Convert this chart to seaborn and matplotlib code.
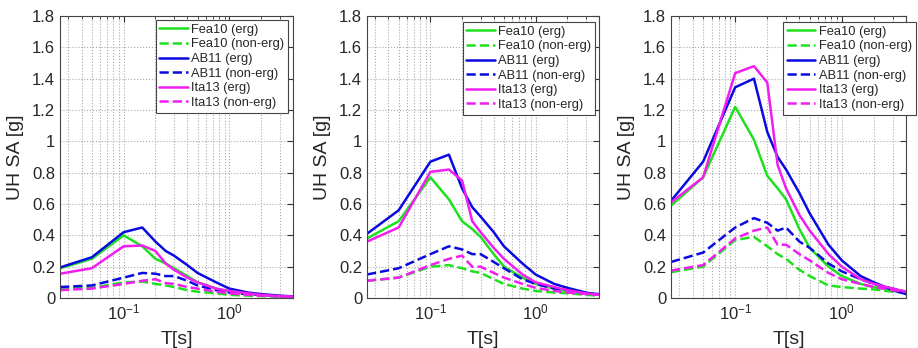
import numpy as np
import pandas as pd
import matplotlib
matplotlib.use("Agg")
import matplotlib.pyplot as plt
import matplotlib.ticker as mticker
import seaborn as sns

periods = [0.025, 0.05, 0.1, 0.15, 0.2, 0.25, 0.3, 0.4, 0.5, 0.75, 1.0, 1.5, 2.0, 3.0, 4.0]
labels = ["Fea10 (erg)", "Fea10 (non-erg)", "AB11 (erg)", "AB11 (non-erg)",
          "Ita13 (erg)", "Ita13 (non-erg)"]

# panel 1
p1_fea_erg = [0.19, 0.25, 0.40, 0.33, 0.25, 0.22, 0.19, 0.14, 0.10, 0.06, 0.04, 0.025, 0.02, 0.01, 0.008]
p1_fea_non = [0.06, 0.065, 0.10, 0.105, 0.09, 0.08, 0.07, 0.05, 0.04, 0.03, 0.02, 0.015, 0.012, 0.008, 0.006]
p1_ab_erg = [0.195, 0.26, 0.42, 0.45, 0.36, 0.30, 0.27, 0.21, 0.16, 0.10, 0.06, 0.035, 0.025, 0.015, 0.01]
p1_ab_non = [0.07, 0.08, 0.13, 0.16, 0.155, 0.14, 0.14, 0.11, 0.08, 0.05, 0.035, 0.025, 0.02, 0.012, 0.01]
p1_ita_erg = [0.155, 0.19, 0.33, 0.335, 0.30, 0.22, 0.18, 0.13, 0.10, 0.06, 0.045, 0.03, 0.02, 0.012, 0.008]
p1_ita_non = [0.05, 0.06, 0.09, 0.11, 0.12, 0.095, 0.09, 0.07, 0.06, 0.04, 0.03, 0.02, 0.015, 0.01, 0.008]

# panel 2
p2_fea_erg = [0.38, 0.49, 0.77, 0.63, 0.49, 0.44, 0.39, 0.28, 0.20, 0.13, 0.09, 0.06, 0.045, 0.03, 0.02]
p2_fea_non = [0.11, 0.13, 0.20, 0.21, 0.19, 0.17, 0.16, 0.12, 0.09, 0.06, 0.045, 0.035, 0.03, 0.02, 0.015]
p2_ab_erg = [0.41, 0.56, 0.87, 0.915, 0.70, 0.58, 0.52, 0.42, 0.33, 0.22, 0.15, 0.09, 0.065, 0.035, 0.02]
p2_ab_non = [0.15, 0.19, 0.28, 0.33, 0.31, 0.28, 0.28, 0.23, 0.19, 0.12, 0.09, 0.06, 0.05, 0.03, 0.025]
p2_ita_erg = [0.36, 0.45, 0.805, 0.82, 0.75, 0.49, 0.42, 0.32, 0.25, 0.15, 0.10, 0.07, 0.05, 0.03, 0.02]
p2_ita_non = [0.11, 0.13, 0.21, 0.25, 0.27, 0.20, 0.20, 0.16, 0.13, 0.09, 0.065, 0.045, 0.035, 0.025, 0.02]

# panel 3
p3_fea_erg = [0.59, 0.77, 1.22, 1.01, 0.78, 0.70, 0.63, 0.44, 0.32, 0.20, 0.14, 0.09, 0.07, 0.05, 0.03]
p3_fea_non = [0.165, 0.20, 0.37, 0.39, 0.33, 0.28, 0.25, 0.18, 0.14, 0.08, 0.07, 0.06, 0.055, 0.04, 0.035]
p3_ab_erg = [0.62, 0.87, 1.345, 1.40, 1.06, 0.90, 0.82, 0.67, 0.54, 0.34, 0.24, 0.14, 0.10, 0.05, 0.025]
p3_ab_non = [0.23, 0.29, 0.45, 0.51, 0.48, 0.43, 0.45, 0.36, 0.32, 0.22, 0.17, 0.12, 0.09, 0.06, 0.04]
p3_ita_erg = [0.61, 0.77, 1.435, 1.48, 1.375, 0.85, 0.70, 0.53, 0.43, 0.28, 0.20, 0.12, 0.09, 0.06, 0.04]
p3_ita_non = [0.175, 0.21, 0.38, 0.43, 0.45, 0.34, 0.34, 0.28, 0.24, 0.16, 0.12, 0.09, 0.07, 0.05, 0.04]

panels = [
    [p1_fea_erg, p1_fea_non, p1_ab_erg, p1_ab_non, p1_ita_erg, p1_ita_non],
    [p2_fea_erg, p2_fea_non, p2_ab_erg, p2_ab_non, p2_ita_erg, p2_ita_non],
    [p3_fea_erg, p3_fea_non, p3_ab_erg, p3_ab_non, p3_ita_erg, p3_ita_non],
]

sns.set_style("white")
plt.rcParams["font.family"] = ["Liberation Sans", "DejaVu Sans"]
plt.rcParams["mathtext.fontset"] = "custom"
plt.rcParams["mathtext.rm"] = "Liberation Sans"
plt.rcParams["mathtext.it"] = "Liberation Sans"

colors = ["#1fe01f", "#1fe01f", "#0a0ae0", "#0a0ae0", "#f01ef0", "#f01ef0"]
dashes = ["-", "--", "-", "--", "-", "--"]

fig = plt.figure(figsize=(9.18, 3.48), dpi=100)
axpos = [
    [60 / 918, 1 - 298 / 348, 233 / 918, 282 / 348],
    [367 / 918, 1 - 298 / 348, 232 / 918, 282 / 348],
    [671 / 918, 1 - 298 / 348, 235 / 918, 282 / 348],
]
leg_anchor = [("upper right", (0.979, 0.986)),
              ("upper right", (0.983, 0.979)),
              ("upper left", (0.477, 0.979))]

for i, series in enumerate(panels):
    ax = fig.add_axes(axpos[i])
    for vals, lab, c, ls in zip(series, labels, colors, dashes):
        df = pd.DataFrame({"T": periods, "SA": vals})
        sns.lineplot(data=df, x="T", y="SA", ax=ax, color=c, linestyle=ls,
                     linewidth=1.8, label=lab)
    ax.set_xscale("log")
    ax.set_xlim(0.025, 4)
    ax.set_ylim(0, 1.8)
    ax.set_yticks(np.arange(0, 1.81, 0.2))
    ax.yaxis.set_major_formatter(mticker.FuncFormatter(
        lambda v, p: "0" if abs(v) < 1e-9 else ("1" if abs(v - 1) < 1e-9 else f"{v:.1f}")))
    ax.set_xticks([0.1, 1.0])
    ax.xaxis.set_major_formatter(mticker.LogFormatterSciNotation())
    ax.xaxis.set_minor_locator(mticker.LogLocator(base=10, subs=np.arange(2, 10), numticks=20))
    ax.xaxis.set_minor_formatter(mticker.NullFormatter())
    ax.grid(True, which="major", axis="both", linestyle=":", color="#aaaaaa", linewidth=0.8)
    ax.grid(True, which="minor", axis="x", linestyle=":", color="#aaaaaa", linewidth=0.8)
    ax.tick_params(axis="both", which="both", direction="in", top=True, right=True,
                   labelsize=12, length=4, color="#333333")
    ax.tick_params(axis="both", which="minor", length=2)
    for s in ax.spines.values():
        s.set_color("#444444")
        s.set_linewidth(0.8)
    ax.set_xlabel("T[s]", fontsize=14, labelpad=6)
    ax.set_ylabel("UH SA [g]", fontsize=14, labelpad=6)
    loc, anchor = leg_anchor[i]
    leg = ax.legend(loc=loc, bbox_to_anchor=anchor, fontsize=9.3, frameon=True,
                    fancybox=False, edgecolor="#444444", framealpha=1,
                    borderaxespad=0, handlelength=2.2, handletextpad=0.25,
                    labelspacing=0.2, borderpad=0.3)
    leg.get_frame().set_linewidth(0.8)

fig.savefig("out.png", dpi=100)
